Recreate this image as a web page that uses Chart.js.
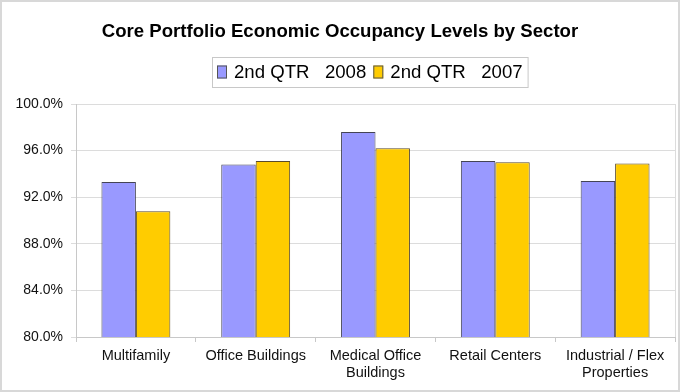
<!DOCTYPE html>
<html><head><meta charset="utf-8">
<script src="https://cdn.jsdelivr.net/npm/chart.js@4/dist/chart.umd.min.js"></script>
<style>html,body{margin:0;padding:0;background:#fff}canvas{display:block}</style>
</head><body>
<canvas id="c" width="680" height="392"></canvas>
<script>
const chartTitle = 'Core Portfolio Economic Occupancy Levels by Sector';
const categories = ['Multifamily', 'Office Buildings', ['Medical Office', 'Buildings'], 'Retail Centers', ['Industrial / Flex', 'Properties']];
const seriesNames = ['2nd QTR   2008', '2nd QTR   2007'];
const q2_2008 = [93.3, 94.8, 97.6, 95.1, 93.4];
const q2_2007 = [90.8, 95.1, 96.2, 95.0, 94.9];
const yTicks = [80, 84, 88, 92, 96, 100];

const FONT = '"Liberation Sans", Arial, sans-serif';

const decor = {
  id: 'decor',
  beforeDraw(chart) {
    const ctx = chart.ctx, a = chart.chartArea;
    ctx.save();
    ctx.fillStyle = '#fff';
    ctx.fillRect(0, 0, chart.width, chart.height);
    ctx.strokeStyle = '#d8d8d8';
    ctx.lineWidth = 2;
    ctx.strokeRect(1, 1, chart.width - 2, chart.height - 2);
    ctx.strokeStyle = '#dcdcdc';
    ctx.lineWidth = 1;
    ctx.beginPath();
    ctx.moveTo(a.right + 0.5, a.top);
    ctx.lineTo(a.right + 0.5, a.bottom);
    ctx.stroke();
    ctx.restore();
  },
  afterDraw(chart) {
    const ctx = chart.ctx;
    ctx.save();
    ctx.fillStyle = '#000';
    ctx.font = 'bold 18.6px ' + FONT;
    ctx.textAlign = 'center';
    ctx.textBaseline = 'middle';
    ctx.fillText(chartTitle, 340, 32);
    ctx.font = '18.6px ' + FONT;
    ctx.textAlign = 'left';
    const ds = chart.data.datasets;
    const sw = 10, sh = 13, gap = 7, itemGap = 7;
    let widths = ds.map(d => sw + gap + ctx.measureText(d.label).width);
    let total = widths.reduce((s, w) => s + w, 0) + itemGap * (ds.length - 1);
    const boxL = 212, boxT = 57, boxH = 30;
    let x = boxL + 5;
    const cy = boxT + boxH / 2;
    ctx.strokeStyle = '#c8c8c8';
    ctx.lineWidth = 1;
    ctx.strokeRect(boxL + 0.5, boxT + 0.5, total + 10, boxH);
    ds.forEach((d, i) => {
      ctx.fillStyle = d.backgroundColor;
      ctx.fillRect(x, cy - sh / 2, sw, sh);
      ctx.strokeStyle = '#555';
      ctx.strokeRect(x + 0.5, cy - sh / 2 + 0.5, sw - 1, sh - 1);
      ctx.fillStyle = '#000';
      ctx.fillText(d.label, x + sw + gap, cy + 1);
      x += widths[i] + itemGap;
    });
    ctx.restore();
  }
};

new Chart(document.getElementById('c'), {
  type: 'bar',
  data: {
    labels: categories,
    datasets: [
      { label: seriesNames[0], data: q2_2008, backgroundColor: '#9999FF', borderColor: '#444455', borderWidth: 1 },
      { label: seriesNames[1], data: q2_2007, backgroundColor: '#FFCC00', borderColor: '#5a4a2a', borderWidth: 1 }
    ]
  },
  options: {
    responsive: false,
    animation: false,
    devicePixelRatio: 1,
    layout: { padding: { top: 104, right: 5, left: 0, bottom: 0 } },
    plugins: { legend: { display: false }, title: { display: false }, tooltip: { enabled: false } },
    datasets: { bar: { categoryPercentage: 0.575, barPercentage: 1.0 } },
    scales: {
      x: {
        afterFit(s) { s.height = 55; },
        grid: { offset: true, drawOnChartArea: false, drawTicks: true, tickLength: 5, color: '#c8c8c8' },
        border: { color: '#c8c8c8' },
        ticks: { color: '#111', font: { family: FONT, size: 14.5 }, padding: 5, maxRotation: 0, autoSkip: false }
      },
      y: {
        min: 80, max: 100,
        afterFit(s) { s.width = 76; },
        afterBuildTicks(s) { s.ticks = yTicks.map(v => ({ value: v })); },
        grid: { color: '#dcdcdc', tickLength: 5 },
        border: { color: '#c8c8c8' },
        ticks: { color: '#111', font: { family: FONT, size: 14 }, padding: 8, callback: v => v.toFixed(1) + '%' }
      }
    }
  },
  plugins: [decor]
});
</script>
</body></html>
